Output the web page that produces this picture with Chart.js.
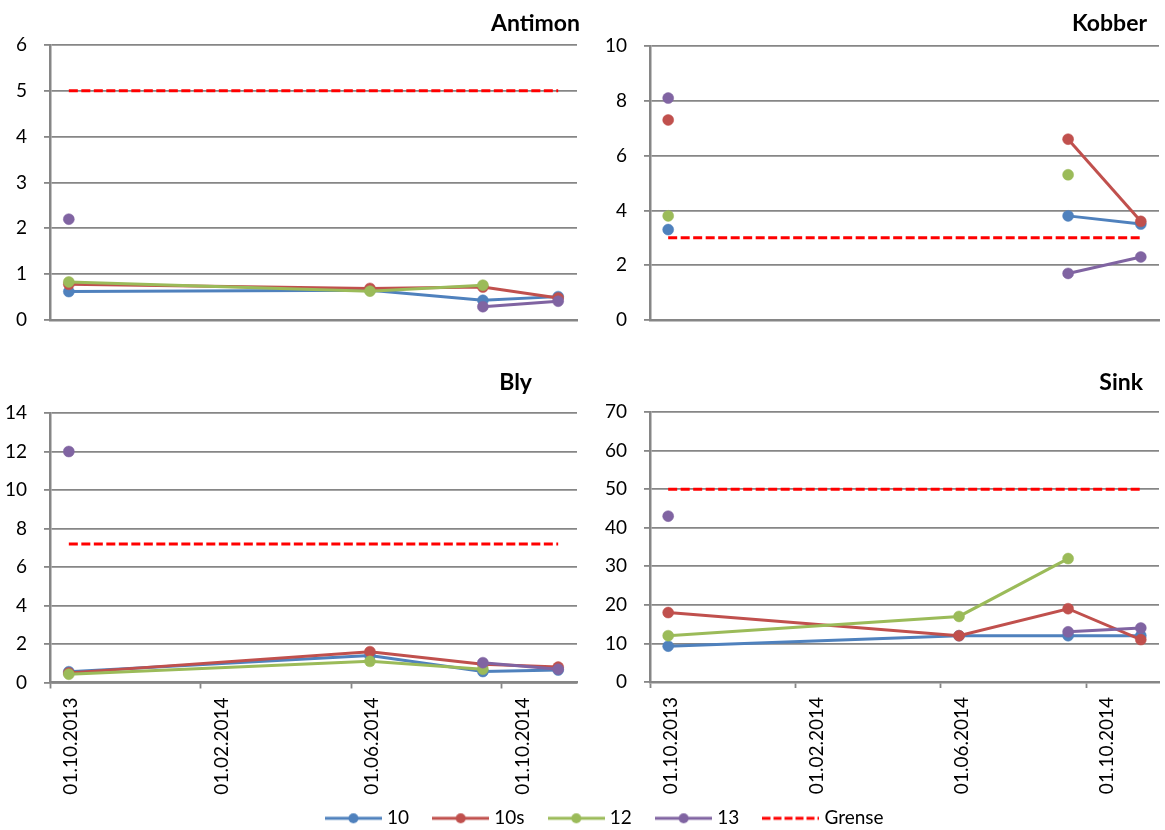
<!DOCTYPE html>
<html>
<head>
<meta charset="utf-8">
<script src="https://cdn.jsdelivr.net/npm/chart.js@4.4.1/dist/chart.umd.min.js"></script>
<style>
  html, body { margin: 0; padding: 0; background: #ffffff; }
  #wrap { position: relative; width: 1165px; height: 830px; overflow: hidden; }
  canvas { position: absolute; }
</style>
</head>
<body>
<div id="wrap">
  <canvas id="cAntimon" width="590" height="360" style="left:0px;top:0px"></canvas>
  <canvas id="cKobber" width="575" height="360" style="left:590px;top:0px"></canvas>
  <canvas id="cBly" width="590" height="440" style="left:0px;top:360px"></canvas>
  <canvas id="cSink" width="575" height="440" style="left:590px;top:360px"></canvas>
  <canvas id="cLegend" width="1165" height="160" style="left:0px;top:781px"></canvas>
</div>
<script>
// Sampling months (MM.YYYY) shared by every panel
const sampleMonths = ['10.2013', '06.2014', '09.2014', '11.2014'];
const seriesNames = ['10', '10s', '12', '13'];
const limitName = 'Grense';
const tickLabels = ['01.10.2013', '01.02.2014', '01.06.2014', '01.10.2014'];

// Antimon
const antimon10  = [0.62, 0.65, 0.43, 0.51];
const antimon10s = [0.78, 0.69, 0.72, 0.48];
const antimon12  = [0.83, 0.63, 0.76, null];
const antimon13  = [2.2, null, 0.29, 0.41];
const antimonLimit = 5;

// Kobber
const kobber10  = [3.3, null, 3.8, 3.5];
const kobber10s = [7.3, null, 6.6, 3.6];
const kobber12  = [3.8, null, 5.3, null];
const kobber13  = [8.1, null, 1.7, 2.3];
const kobberLimit = 3;

// Bly
const bly10  = [0.56, 1.4, 0.57, 0.65];
const bly10s = [0.5, 1.6, 0.95, 0.8];
const bly12  = [0.43, 1.1, 0.69, null];
const bly13  = [12, null, 1.03, 0.69];
const blyLimit = 7.2;

// Sink
const sink10  = [9.3, 12, 12, 12];
const sink10s = [18, 12, 19, 11];
const sink12  = [12, 17, 32, null];
const sink13  = [43, null, 13, 14];
const sinkLimit = 50;

const seriesColors = ['#4F81BD', '#C0504D', '#9BBB59', '#8064A2'];
const limitColor = '#FF0000';
const gridColor = '#868686';
const FONT = 'Lato';
const TICK_SIZE = 19;

// Month axis: one slot per month starting October 2013, points sit mid-slot
const START_YEAR = 2013, START_MONTH = 10, MONTH_SLOTS = 14;
function monthSlot(mmYYYY) {
  const [m, y] = mmYYYY.split('.').map(Number);
  return (y - START_YEAR) * 12 + (m - START_MONTH);
}
const sampleX = sampleMonths.map(m => monthSlot(m) + 0.5);
const tickValues = tickLabels.map(d => monthSlot(d.slice(3)));

function toPoints(values) {
  return values.map((v, i) => ({ x: sampleX[i], y: v }));
}

const panelTitle = {
  id: 'panelTitle',
  afterDraw(chart, args, opts) {
    if (!opts || !opts.text) return;
    const ctx = chart.ctx;
    ctx.save();
    ctx.font = 'bold 23px ' + FONT;
    ctx.fillStyle = '#000000';
    ctx.textAlign = 'right';
    ctx.textBaseline = 'alphabetic';
    ctx.fillText(opts.text, opts.right, opts.baseline);
    ctx.restore();
  }
};

function makePanel(id, cfg) {
  const datasets = cfg.series.map((vals, i) => ({
    label: seriesNames[i],
    data: toPoints(vals),
    borderColor: seriesColors[i],
    backgroundColor: seriesColors[i],
    pointBackgroundColor: seriesColors[i],
    pointBorderColor: seriesColors[i],
    borderWidth: 3,
    pointRadius: 5.5,
    pointBorderWidth: 0.5,
    tension: 0,
    spanGaps: false,
    order: 4 - i
  }));
  datasets.push({
    label: limitName,
    data: [{ x: sampleX[0], y: cfg.limit }, { x: sampleX[sampleX.length - 1], y: cfg.limit }],
    borderColor: limitColor,
    backgroundColor: limitColor,
    borderWidth: 3,
    borderDash: [9, 3.5],
    pointRadius: 0,
    tension: 0,
    order: 0
  });

  return new Chart(document.getElementById(id), {
    type: 'line',
    data: { datasets },
    plugins: [panelTitle],
    options: {
      responsive: false,
      animation: false,
      events: [],
      layout: { padding: cfg.padding },
      plugins: {
        legend: { display: false },
        tooltip: { enabled: false },
        panelTitle: cfg.title
      },
      scales: {
        x: {
          type: 'linear',
          min: 0,
          max: MONTH_SLOTS,
          afterBuildTicks: (scale) => { scale.ticks = tickValues.map(v => ({ value: v })); },
          afterFit: (scale) => { scale.height = cfg.xHeight; },
          ticks: {
            display: cfg.showX,
            autoSkip: false,
            minRotation: 90,
            maxRotation: 90,
            labelOffset: 21,
            padding: 9,
            color: '#000000',
            font: { family: FONT, size: TICK_SIZE },
            callback: (v) => {
              const k = tickValues.indexOf(v);
              return k >= 0 ? tickLabels[k] : '';
            }
          },
          grid: {
            display: true,
            drawOnChartArea: false,
            drawTicks: cfg.showX,
            tickLength: 6,
            tickWidth: 1.8,
            tickColor: gridColor,
            color: gridColor
          },
          border: { display: true, color: gridColor, width: 2.5 }
        },
        y: {
          min: 0,
          max: cfg.yMax,
          afterFit: (scale) => { scale.width = cfg.yWidth; },
          ticks: {
            stepSize: cfg.yStep,
            padding: cfg.yPad,
            color: '#000000',
            font: { family: FONT, size: TICK_SIZE }
          },
          grid: {
            color: gridColor,
            lineWidth: 1.8,
            drawTicks: true,
            tickLength: 6,
            tickColor: gridColor
          },
          border: { display: true, color: gridColor, width: 2.5 }
        }
      }
    }
  });
}

makePanel('cAntimon', {
  series: [antimon10, antimon10s, antimon12, antimon13], limit: antimonLimit,
  yMax: 6, yStep: 1, yWidth: 50, yPad: 17, showX: false, xHeight: 40,
  padding: { left: 0, top: 45, right: 13, bottom: 0 },
  title: { text: 'Antimon', right: 580, baseline: 31 }
});
makePanel('cKobber', {
  series: [kobber10, kobber10s, kobber12, kobber13], limit: kobberLimit,
  yMax: 10, yStep: 2, yWidth: 60, yPad: 17, showX: false, xHeight: 40,
  padding: { left: 0, top: 46, right: 0, bottom: 0 },
  title: { text: 'Kobber', right: 557, baseline: 31 }
});
makePanel('cBly', {
  series: [bly10, bly10s, bly12, bly13], limit: blyLimit,
  yMax: 14, yStep: 2, yWidth: 50, yPad: 17, showX: true, xHeight: 117.5,
  padding: { left: 0, top: 53, right: 13, bottom: 0 },
  title: { text: 'Bly', right: 532, baseline: 30 }
});
makePanel('cSink', {
  series: [sink10, sink10s, sink12, sink13], limit: sinkLimit,
  yMax: 70, yStep: 10, yWidth: 60, yPad: 17, showX: true, xHeight: 118,
  padding: { left: 0, top: 52, right: 0, bottom: 0 },
  title: { text: 'Sink', right: 553, baseline: 30 }
});

// Legend swatches: line with a centred marker, or a dashed line for the limit
function swatch(color, dashed) {
  const c = document.createElement('canvas');
  c.width = 57; c.height = 12;
  const g = c.getContext('2d');
  g.strokeStyle = color;
  g.lineWidth = 3;
  if (dashed) g.setLineDash([8, 3]);
  g.beginPath(); g.moveTo(0, 6); g.lineTo(57, 6); g.stroke();
  if (!dashed) {
    g.fillStyle = color;
    g.beginPath(); g.arc(28.5, 6, 5, 0, Math.PI * 2); g.fill();
  }
  return c;
}
const legendEntries = seriesNames.map((n, i) => ({ text: n, color: seriesColors[i], dashed: false }))
  .concat([{ text: limitName, color: limitColor, dashed: true }]);

new Chart(document.getElementById('cLegend'), {
  type: 'line',
  data: { datasets: legendEntries.map(e => ({ label: e.text, data: [], borderColor: e.color })) },
  options: {
    responsive: false,
    animation: false,
    events: [],
    layout: { padding: { left: 48, right: 0, top: 0, bottom: 0 } },
    scales: { x: { display: false }, y: { display: false } },
    plugins: {
      tooltip: { enabled: false },
      legend: {
        display: true,
        position: 'top',
        labels: {
          usePointStyle: true,
          pointStyleWidth: 48,
          padding: 27.8,
          color: '#000000',
          font: { family: FONT, size: TICK_SIZE },
          generateLabels: () => legendEntries.map((e, i) => ({
            text: e.text,
            pointStyle: swatch(e.color, e.dashed),
            fillStyle: e.color,
            strokeStyle: e.color,
            lineWidth: 0,
            hidden: false,
            datasetIndex: i,
            fontColor: '#000000'
          }))
        }
      }
    }
  }
});
</script>
</body>
</html>
